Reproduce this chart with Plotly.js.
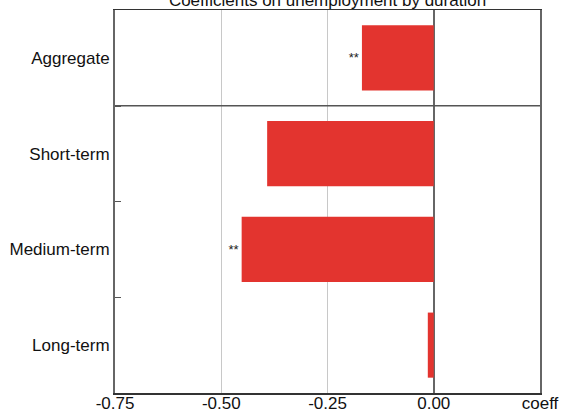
<!DOCTYPE html>
<html>
<head>
<meta charset="utf-8">
<script src="https://cdn.plot.ly/plotly-3.0.1.min.js"></script>
<style>html,body{margin:0;padding:0;background:#fff;}#chart{width:562px;height:412px;}</style>
</head>
<body>
<div id="chart"></div>
<script>
const categories = ["Aggregate", "Short-term", "Medium-term", "Long-term"];
const coefficients = [-0.169, -0.392, -0.452, -0.014];
const significance = ["**", "", "**", ""];
const xTickVals = [-0.75, -0.5, -0.25, 0, 0.25];
const xTickText = ["-0.75", "-0.50", "-0.25", "0.00", "coeff"];
const chartTitle = "Coefficients on unemployment by duration";

const font = "Liberation Sans, Arial, sans-serif";

const trace = {
  type: "bar",
  orientation: "h",
  y: categories,
  x: coefficients,
  text: significance,
  textposition: "outside",
  cliponaxis: false,
  textfont: {family: font, size: 13, color: "#222"},
  marker: {color: "#e3342f", line: {width: 0}},
  width: 0.68,
  hoverinfo: "none"
};

const layout = {
  width: 562, height: 412,
  margin: {l: 115, r: 22, t: 10, b: 19, pad: 0},
  paper_bgcolor: "#fff", plot_bgcolor: "#fff",
  showlegend: false,
  font: {family: font, size: 17, color: "#111"},
  title: {
    text: chartTitle,
    font: {family: font, size: 17, color: "#111"},
    x: 0.5, xref: "paper", xanchor: "center",
    y: 1.0, yref: "container", yanchor: "middle"
  },
  xaxis: {
    range: [-0.75, 0.25],
    tickvals: xTickVals, ticktext: xTickText,
    ticks: "", showgrid: true, gridcolor: "#c8c8c8", gridwidth: 1,
    zeroline: true, zerolinecolor: "#666", zerolinewidth: 1.5,
    showline: true, linecolor: "#333", linewidth: 1.5, mirror: true,
    tickfont: {family: font, size: 17, color: "#111"},
    ticklabelstandoff: -6,
    fixedrange: true
  },
  yaxis: {
    type: "category",
    categoryorder: "array", categoryarray: categories,
    range: [3.5, -0.5],
    tickson: "boundaries", ticks: "inside", ticklen: 6, tickwidth: 1.5, tickcolor: "#555",
    showgrid: false, zeroline: false,
    showline: true, linecolor: "#666", linewidth: 2, mirror: true,
    tickfont: {family: font, size: 17, color: "#111"},
    ticklabelstandoff: 0,
    fixedrange: true
  },
  shapes: [{
    type: "line", xref: "paper", yref: "y",
    x0: 0, x1: 1, y0: 0.5, y1: 0.5,
    line: {color: "#555", width: 1.5}
  }]
};

Plotly.newPlot("chart", [trace], layout, {displayModeBar: false, staticPlot: true});
</script>
</body>
</html>
